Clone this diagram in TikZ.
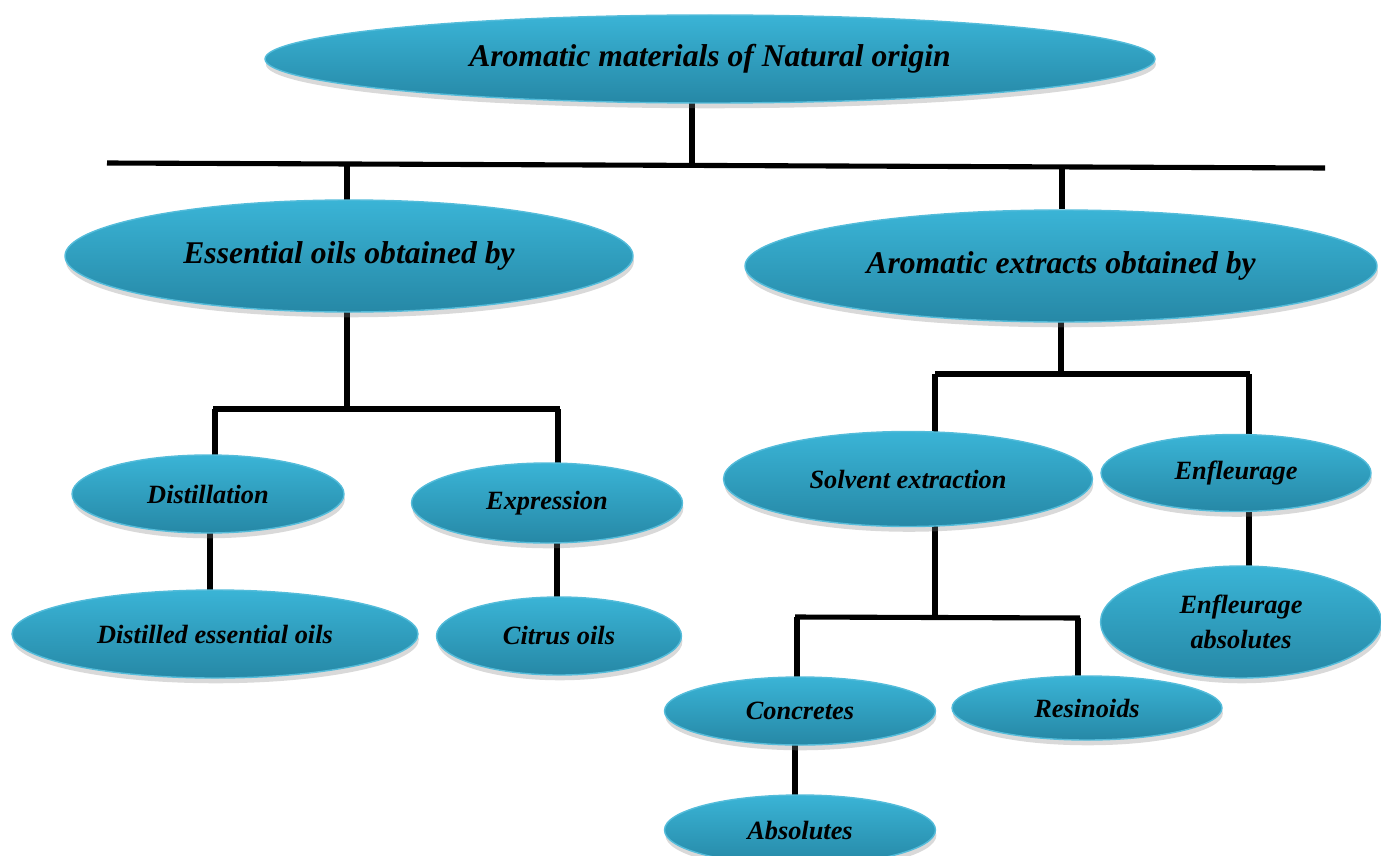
\documentclass[tikz,border=0pt]{standalone}
\usepackage{fontspec}
\setmainfont{Liberation Serif}
\usetikzlibrary{shapes.geometric,shadows,backgrounds}

\definecolor{bubbletop}{RGB}{58,180,214}
\definecolor{bubblebottom}{RGB}{38,136,166}
\definecolor{bubbleedge}{RGB}{84,188,218}

\begin{document}
\begin{tikzpicture}[
    x=0.02cm, y=-0.02cm,
    bubble/.style={ellipse, inner sep=0pt, draw=bubbleedge, line width=0.8pt,
        top color=bubbletop, bottom color=bubblebottom,
        drop shadow={shadow xshift=0.5pt, shadow yshift=-3pt, opacity=0.3},
        font=\bfseries\itshape\fontsize{15}{20}\selectfont},
    big/.style={font=\bfseries\itshape\fontsize{18}{22}\selectfont},
    dims/.style 2 args={minimum width=#1*0.02cm, minimum height=#2*0.02cm},
    link/.style={line width=2.9pt}
]
    \useasboundingbox (0,0) rectangle (1381,855);

    % top level
    \node[bubble,big,dims={890}{88}]  (root) at (710,59)  {Aromatic materials of Natural origin};
    \node[bubble,big,dims={568}{112}] (eo)   at (349,256) {Essential oils obtained by};
    \node[bubble,big,dims={632}{112}] (ae)   at (1061,266) {Aromatic extracts obtained by};

    % essential oils
    \node[bubble,dims={272}{78}]  (dist) at (208,494) {Distillation};
    \node[bubble,dims={271}{80}]  (expr) at (547,503) {Expression};
    \node[bubble,dims={406}{88}]  (deo)  at (215,634) {Distilled essential oils};
    \node[bubble,dims={245}{78}]  (cit)  at (559,636) {Citrus oils};

    % aromatic extracts
    \node[bubble,dims={369}{95}]  (solv) at (908,479)  {Solvent extraction};
    \node[bubble,dims={270}{77}]  (enf)  at (1236,473) {Enfleurage};
    \node[bubble,dims={281}{112},align=center] (enfa) at (1241,622) {Enfleurage\\absolutes};
    \node[bubble,dims={271}{68}]  (conc) at (800,711)  {Concretes};
    \node[bubble,dims={270}{64}]  (res)  at (1087,708) {Resinoids};
    \node[bubble,dims={271}{70}]  (abso) at (800,830)  {Absolutes};

    % junction points
    \coordinate (topbarW) at (107,163);
    \coordinate (topbarE) at (1325,168);
    \coordinate (rootdrop) at (692,164);
    \coordinate (eoup) at (347,165);
    \coordinate (aeup) at (1062,169);
    \coordinate (eobarW) at (213,409);
    \coordinate (eobarE) at (560,409);
    \coordinate (eodrop) at (347,409);
    \coordinate (distup) at (215,409);
    \coordinate (exprup) at (558,409);
    \coordinate (distlink) at (210,560);
    \coordinate (exprlink) at (557,570);
    \coordinate (aebarW) at (935,374);
    \coordinate (aebarE) at (1250,374);
    \coordinate (aedrop) at (1061,374);
    \coordinate (solvup) at (935,374);
    \coordinate (enfup) at (1249,374);
    \coordinate (enflink) at (1249,540);
    \coordinate (svbarW) at (795,617);
    \coordinate (svbarE) at (1080,618);
    \coordinate (solvdrop) at (935,617);
    \coordinate (concup) at (797,617);
    \coordinate (resup) at (1078,618);
    \coordinate (conclink) at (795,770);

    \begin{scope}[on background layer]
        \draw[link] (topbarW) -- (topbarE);
        \draw[link] (rootdrop |- root.center) -- (rootdrop);
        \draw[link] (eoup) -- (eoup |- eo.center);
        \draw[link] (aeup) -- (aeup |- ae.north);
        % essential oils branch
        \draw[link] (eodrop |- eo.center) -- (eodrop);
        \draw[link] (eobarW) -- (eobarE);
        \draw[link] (distup) -- (distup |- dist.center);
        \draw[link] (exprup) -- (exprup |- expr.center);
        \draw[link] (distlink |- dist.center) -- (distlink |- deo.center);
        \draw[link] (exprlink |- expr.center) -- (exprlink |- cit.center);
        % aromatic extracts branch
        \draw[link] (aedrop |- ae.center) -- (aedrop);
        \draw[link] (aebarW) -- (aebarE);
        \draw[link] (solvup) -- (solvup |- solv.center);
        \draw[link] (enfup) -- (enfup |- enf.center);
        \draw[link] (enflink |- enf.center) -- (enflink |- enfa.center);
        \draw[link] (solvdrop |- solv.center) -- (solvdrop);
        \draw[link] (svbarW) -- (svbarE);
        \draw[link] (concup) -- (concup |- conc.center);
        \draw[link] (resup) -- (resup |- res.center);
        \draw[link] (conclink |- conc.center) -- (conclink |- abso.center);
    \end{scope}
\end{tikzpicture}
\end{document}
